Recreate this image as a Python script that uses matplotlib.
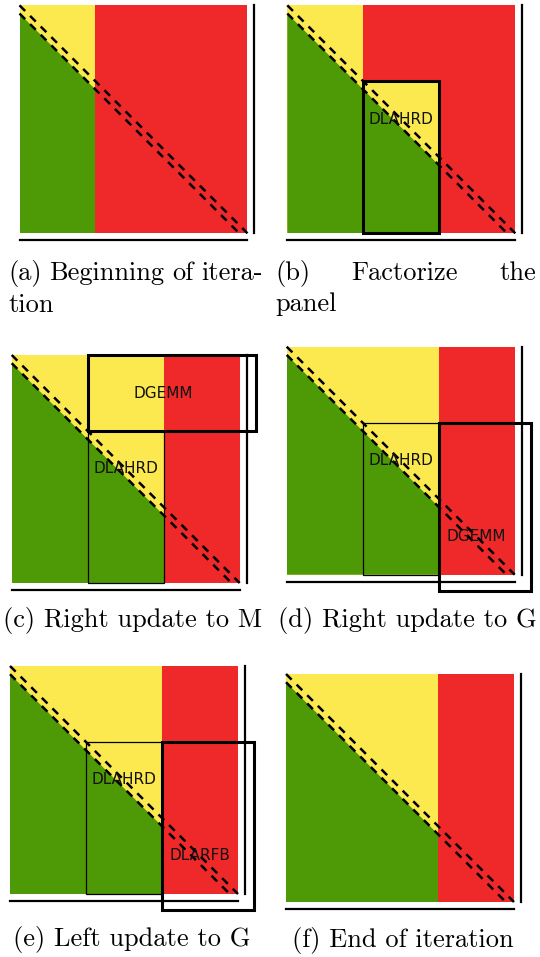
"""
Six-stage sketch of one blocked Hessenberg reduction iteration
(DLAHRD panel factorization, DGEMM / DLARFB updates).
"""

import matplotlib
matplotlib.use("Agg")
import matplotlib.pyplot as plt
from matplotlib.patches import Rectangle, Polygon

W_PX, H_PX, DPI = 540, 957, 100

GREEN  = "#4e9a06"
YELLOW = "#fce94f"
RED    = "#ef2929"

SUB = 0.036        # subdiagonal offset, fraction of matrix width
S   = 228          # matrix size in pixels

# columns already reduced at each stage
REDUCED = [1/3, 1/3, 2/3, 2/3, 2/3, 2/3]

# panel currently being factorized (x0, x1, y0, y1), or None
PANEL = [None, (1/3, 2/3, 1/3, 1.0), None, None, None, None]

# kernel boxes: (label, x0, x1, y0, y1, bold, text_x, text_y)
KERNELS = [
    [],
    [("DLAHRD", 1/3, 2/3, 1/3, 1.0, True, 0.5, 0.5)],
    [("DLAHRD", 1/3, 2/3, 1/3, 1.0, False, 0.5, 0.5),
     ("DGEMM", 1/3, 1.07, 0.0, 1/3, True, 2/3, 1/6)],
    [("DLAHRD", 1/3, 2/3, 1/3, 1.0, False, 0.5, 0.5),
     ("DGEMM", 2/3, 1.07, 1/3, 1.07, True, 5/6, 5/6)],
    [("DLAHRD", 1/3, 2/3, 1/3, 1.0, False, 0.5, 0.5),
     ("DLARFB", 2/3, 1.07, 1/3, 1.07, True, 5/6, 5/6)],
    [],
]

# caption lines; first two are justified paragraphs
CAPTIONS = [
    [["(a)", "Beginning", "of", "itera-"], ["tion"]],
    [["(b)", "Factorize", "the"], ["panel"]],
    [["(c) Right update to M"]],
    [["(d) Right update to G"]],
    [["(e) Left update to G"]],
    [["(f) End of iteration"]],
]

# top-left corner of each matrix, pixels
SQUARE_POS = [(19.5, 5.3), (287.3, 5.3), (11.7, 355.0),
              (286.7, 346.7), (10.0, 666.0), (286.0, 674.0)]

# caption placement: (mode, x_left / x_center, x_right, first baseline)
CAPTION_POS = [
    ("justify", 8, 263, 280),
    ("justify", 275, 536, 280),
    ("center", 132.5, None, 627),
    ("center", 407, None, 627),
    ("center", 131.5, None, 946),
    ("center", 403, None, 947),
]
LINE_STEP = 31.5
CAP_FONT = dict(family="cmr10", fontsize=19, color="black")


def draw_matrix(ax, reduced, panel, kernels):
    # whole matrix starts as untouched (red)
    ax.add_patch(Rectangle((0, 0), 1, 1, facecolor=RED, edgecolor="none"))

    blocks = [(0, reduced, 0, 1)]
    if panel is not None:
        blocks.append(panel)
    for x0, x1, y0, y1 in blocks:
        clip = Rectangle((x0, y0), x1 - x0, y1 - y0, facecolor=YELLOW,
                         edgecolor="none")
        ax.add_patch(clip)
        tri = Polygon([(0, SUB), (1 - SUB, 1), (0, 1)], closed=True,
                      facecolor=GREEN, edgecolor="none")
        ax.add_patch(tri)
        tri.set_clip_path(clip)

    dash = dict(color="black", lw=1.8, linestyle=(0, (3.2, 2.8)))
    ax.plot([0, 1], [0, 1], **dash)
    ax.plot([0, 1 - SUB], [SUB, 1], **dash)

    # matrix brackets
    ax.plot([1.03, 1.03], [0, 1], color="black", lw=1.6)
    ax.plot([0, 1], [1.03, 1.03], color="black", lw=1.6)

    for label, x0, x1, y0, y1, bold, tx, ty in kernels:
        ax.add_patch(Rectangle((x0, y0), x1 - x0, y1 - y0, fill=False,
                               edgecolor="black", lw=2.2 if bold else 0.9,
                               zorder=4))
        ax.text(tx, ty, label, ha="center", va="center", fontsize=11,
                family="DejaVu Sans", color="#111111", zorder=5)


def fx(px):
    return px / W_PX


def fy(py):
    return 1 - py / H_PX


def main():
    fig = plt.figure(figsize=(W_PX / DPI, H_PX / DPI), dpi=DPI)
    renderer = fig.canvas.get_renderer()

    for k in range(6):
        left, top = SQUARE_POS[k]
        ax = fig.add_axes([fx(left - 0.05 * S), fy(top + 1.1 * S),
                           1.15 * S / W_PX, 1.15 * S / H_PX])
        ax.set_xlim(-0.05, 1.1)
        ax.set_ylim(1.1, -0.05)
        ax.axis("off")
        draw_matrix(ax, REDUCED[k], PANEL[k], KERNELS[k])

        mode, xa, xb, base = CAPTION_POS[k]
        for i, words in enumerate(CAPTIONS[k]):
            y = fy(base + i * LINE_STEP)
            if mode == "center":
                fig.text(fx(xa), y, words[0], ha="center", va="baseline",
                         **CAP_FONT)
                continue
            texts = [fig.text(fx(xa), y, w, ha="left", va="baseline",
                              **CAP_FONT) for w in words]
            if i == len(CAPTIONS[k]) - 1 or len(texts) == 1:
                # last line of a paragraph: normal spacing
                x = xa
                for t in texts:
                    t.set_x(fx(x))
                    x += t.get_window_extent(renderer).width + 6
                continue
            widths = [t.get_window_extent(renderer).width for t in texts]
            gap = (xb - xa - sum(widths)) / (len(texts) - 1)
            x = xa
            for t, w in zip(texts, widths):
                t.set_x(fx(x))
                x += w + gap

    fig.savefig("out.png", dpi=DPI)
    plt.close(fig)


if __name__ == "__main__":
    main()
